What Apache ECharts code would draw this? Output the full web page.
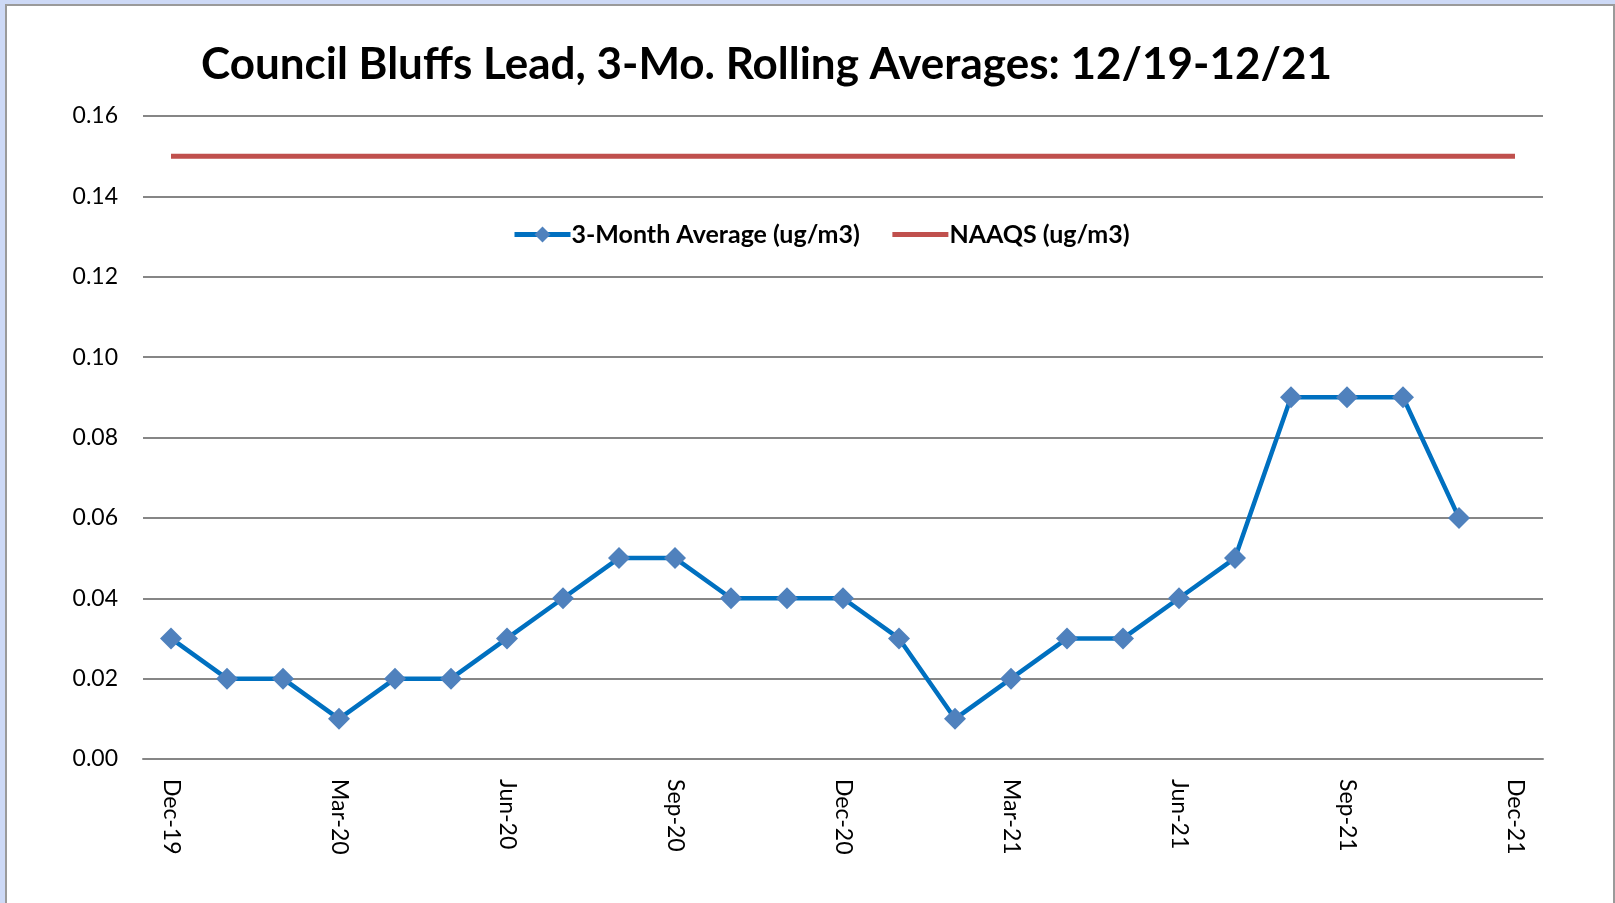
<!DOCTYPE html>
<html><head><meta charset="utf-8">
<script src="https://cdn.jsdelivr.net/npm/echarts@6/dist/echarts.min.js"></script>
<style>
html,body{margin:0;padding:0;width:1615px;height:903px;overflow:hidden;background:#cdd9f6;}
#frame{position:absolute;left:5px;top:4px;width:1606px;height:920px;background:#fff;border:2px solid #9a9a9a;}
#chart{position:absolute;left:0;top:0;width:1615px;height:903px;}
</style></head>
<body><div id="frame"></div><div id="chart"></div>
<script>
const categories = ["Dec-19","Jan-20","Feb-20","Mar-20","Apr-20","May-20","Jun-20","Jul-20","Aug-20","Sep-20","Oct-20","Nov-20","Dec-20","Jan-21","Feb-21","Mar-21","Apr-21","May-21","Jun-21","Jul-21","Aug-21","Sep-21","Oct-21","Nov-21","Dec-21"];
const avgValues = [0.03,0.02,0.02,0.01,0.02,0.02,0.03,0.04,0.05,0.05,0.04,0.04,0.04,0.03,0.01,0.02,0.03,0.03,0.04,0.05,0.09,0.09,0.09,0.06,null];
const naaqsValues = [0.15,0.15,0.15,0.15,0.15,0.15,0.15,0.15,0.15,0.15,0.15,0.15,0.15,0.15,0.15,0.15,0.15,0.15,0.15,0.15,0.15,0.15,0.15,0.15,0.15];
const titleText = "Council Bluffs Lead, 3-Mo. Rolling Averages: 12/19-12/21";
const chart = echarts.init(document.getElementById('chart'), null, {renderer:'canvas'});
const font = "Lato, 'Open Sans', sans-serif";
chart.setOption({
  backgroundColor: 'transparent',
  animation: false,
  title: {text: titleText, left: 196, top: 38, textStyle:{fontFamily: font, fontWeight:'bold', fontSize: 44, color:'#000'}},
  legend: {top: 217, left: 507, itemWidth: 56, itemHeight: 20, itemGap: 30,
    textStyle:{fontFamily: font, fontWeight:'bold', fontSize: 25, color:'#000', padding:[0,0,0,-4]},
    data:[{name:'3-Month Average (ug/m3)', lineStyle:{width:5}},
          {name:'NAAQS (ug/m3)', lineStyle:{width:5}, itemStyle:{opacity:0}}]},
  grid: {left: 143, right: 72, top: 116, bottom: 144},
  xAxis: {type:'category', data: categories, boundaryGap: true,
    axisLine:{show:true, lineStyle:{color:'#868686', width:2}}, axisTick:{show:false},
    axisLabel:{interval: 2, rotate: -90, margin: 20, fontFamily: font, fontSize: 23, color:'#000'}},
  yAxis: {type:'value', min: 0, max: 0.16, interval: 0.02,
    axisLine:{show:false}, axisTick:{show:false},
    splitLine:{lineStyle:{color:'#868686', width:2}},
    axisLabel:{formatter: v => v.toFixed(2), margin: 25, fontFamily: font, fontSize: 23, color:'#000'}},
  series: [
    {name:'3-Month Average (ug/m3)', type:'line', data: avgValues, symbol:'diamond', symbolSize: 22,
      lineStyle:{color:'#0070C0', width: 4.5}, itemStyle:{color:'#4F81BD'}, z: 3},
    {name:'NAAQS (ug/m3)', type:'line', data: naaqsValues, symbol:'none',
      lineStyle:{color:'#C0504D', width: 5}, itemStyle:{color:'#C0504D'}}
  ]
});
</script></body></html>
